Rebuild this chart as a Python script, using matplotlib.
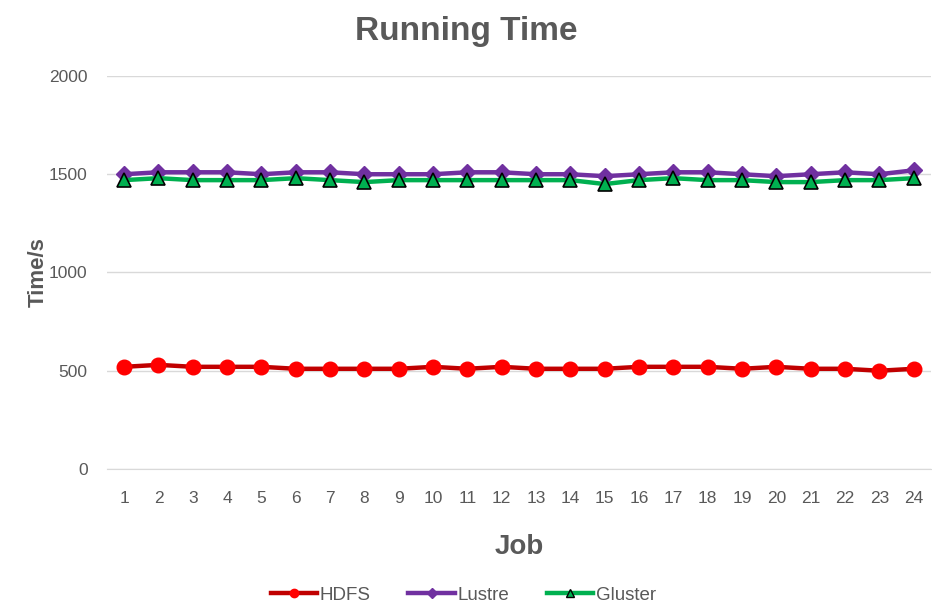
import matplotlib
matplotlib.use("Agg")
import matplotlib.pyplot as plt
from matplotlib.lines import Line2D

plt.rcParams['font.family'] = ['Liberation Sans', 'DejaVu Sans']

jobs = list(range(1, 25))
hdfs = [520, 530, 520, 520, 520, 510, 510, 510, 510, 520, 510, 520,
        510, 510, 510, 520, 520, 520, 510, 520, 510, 510, 500, 510]
lustre = [1500, 1510, 1510, 1510, 1500, 1510, 1510, 1500, 1500, 1500, 1510, 1510,
          1500, 1500, 1490, 1500, 1510, 1510, 1500, 1490, 1500, 1510, 1500, 1520]
gluster = [1470, 1480, 1470, 1470, 1470, 1480, 1470, 1460, 1470, 1470, 1470, 1470,
           1470, 1470, 1450, 1470, 1480, 1470, 1470, 1460, 1460, 1470, 1470, 1480]
y_ticks = [0, 500, 1000, 1500, 2000]

text_color = '#595959'

fig = plt.figure(figsize=(9.32, 6.04), dpi=100)
ax = fig.add_axes([0.1148, 0.2235, 0.884, 0.6507])

ax.plot(jobs, lustre, color='#7030A0', lw=3.2, marker='D', ms=8.5,
        mfc='#7030A0', mec='#7030A0', zorder=3)
ax.plot(jobs, gluster, color='#00B050', lw=3.2, marker='^', ms=10,
        mfc='#00B050', mec='black', mew=1.2, zorder=4)
ax.plot(jobs, hdfs, color='#C00000', lw=3.2, marker='o', ms=10.5,
        mfc='#FF0000', mec='#FF0000', zorder=3)

ax.set_xlim(0.5, 24.5)
ax.set_ylim(0, 2000)
ax.set_yticks(y_ticks)
ax.set_xticks(jobs)
ax.grid(axis='y', color='#D9D9D9', lw=1)
ax.set_axisbelow(True)
for side in ['top', 'right', 'left']:
    ax.spines[side].set_visible(False)
ax.spines['bottom'].set_color('#D9D9D9')
ax.tick_params(axis='both', length=0, labelsize=12.5, colors=text_color)
ax.tick_params(axis='x', pad=16)
ax.tick_params(axis='y', pad=14)

fig.text(0.5, 0.948, 'Running Time', fontsize=24, fontweight='bold',
         color=text_color, ha='center', va='center')
ax.set_xlabel('Job', fontsize=20, fontweight='bold', color=text_color, labelpad=20)
ax.set_ylabel('Time/s', fontsize=16, fontweight='bold', color=text_color, labelpad=0)

handles = [
    Line2D([], [], color='#C00000', lw=3.2, marker='o', ms=6, mfc='#FF0000', mec='#FF0000'),
    Line2D([], [], color='#7030A0', lw=3.2, marker='D', ms=5, mfc='#7030A0', mec='#7030A0'),
    Line2D([], [], color='#00B050', lw=3.2, marker='^', ms=6, mfc='#00B050', mec='black', mew=1),
]
leg = fig.legend(handles, ['HDFS', 'Lustre', 'Gluster'], loc='lower center',
                 bbox_to_anchor=(0.497, -0.028), ncol=3, frameon=False,
                 fontsize=13.5, handlelength=2.5, handletextpad=0.12, columnspacing=2.0)
for t in leg.get_texts():
    t.set_color(text_color)

fig.savefig('out.png', dpi=100)
